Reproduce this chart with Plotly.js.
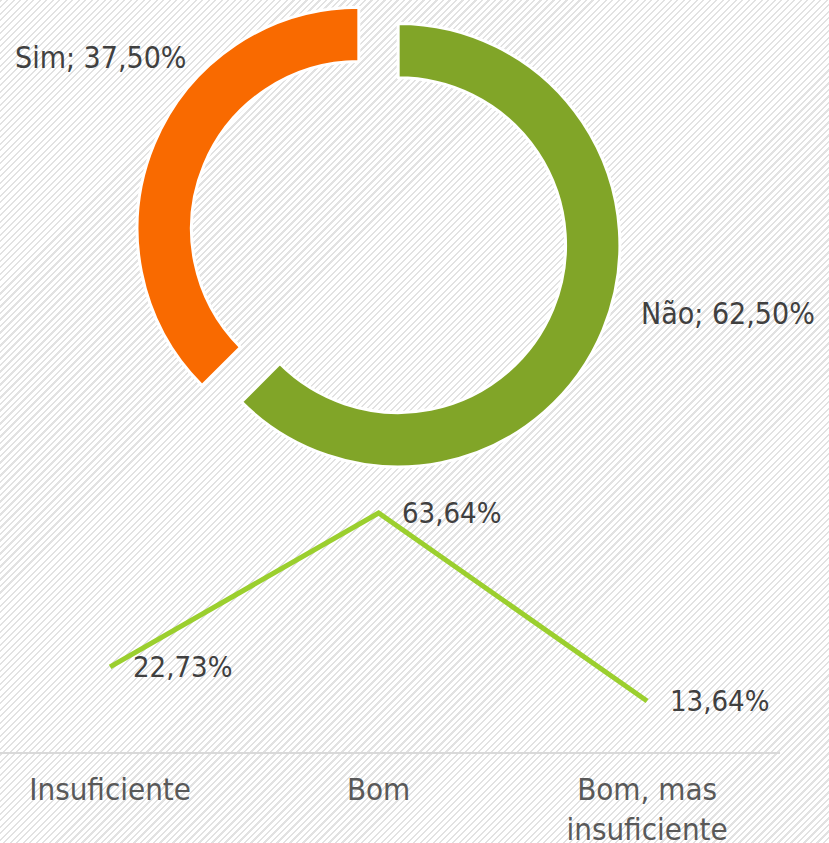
<!DOCTYPE html>
<html>
<head>
<meta charset="utf-8">
<script src="https://cdn.plot.ly/plotly-3.0.1.min.js"></script>
<style>
  html, body { margin: 0; padding: 0; width: 829px; height: 843px; overflow: hidden; }
  body {
    background-color: #ffffff;
    background-image: repeating-linear-gradient(135deg, #e2e2e2 0px, #e2e2e2 1.6px, #ffffff 1.6px, #ffffff 4.6px);
  }
  #chart { position: absolute; left: 0; top: -6px; width: 829px; height: 849px; }
</style>
</head>
<body>
<div id="chart"></div>
<script>
// Donut data
const pieLabels = ['Sim', 'Não'];
const pieValues = [37.5, 62.5];
const pieColors = ['#F96A00', '#81A528'];

// Line data
const lineCategories = ['Insuficiente', 'Bom', 'Bom, mas insuficiente'];
const lineTickLabels = ['Insuficiente', 'Bom', 'Bom, mas<br>insuficiente'];
const lineValues = [22.73, 63.64, 13.64];

const FONT = '"DejaVu Sans Condensed", "Liberation Sans Narrow", "DejaVu Sans", sans-serif';
const fmt = v => v.toFixed(2).replace('.', ',') + '%';

const W = 829, H = 849, OFF = 6;
const py = y => 1 - (y + OFF) / H; // page pixel y -> paper fraction

const pieTrace = {
  type: 'pie',
  labels: pieLabels,
  values: pieValues,
  hole: 0.755,
  pull: [0.096, 0.096],
  sort: true,
  direction: 'clockwise',
  rotation: 0,
  textinfo: 'none',
  hoverinfo: 'skip',
  marker: { colors: pieColors, line: { color: '#ffffff', width: 3 } },
  domain: { x: [(378.5 - 243) / W, (378.5 + 243) / W], y: [1 - 486 / H, 1] },
  showlegend: false
};

const lineTrace = {
  type: 'scatter',
  mode: 'lines',
  x: lineCategories,
  y: lineValues,
  line: { color: '#9BCF2E', width: 5 },
  hoverinfo: 'skip',
  showlegend: false,
  xaxis: 'x',
  yaxis: 'y'
};

const annotations = [];
const total = pieValues.reduce((a, b) => a + b, 0);
const piePos = {
  'Sim': { x: 13 / W, y: py(58) },
  'Não': { x: 639 / W, y: py(313) }
};
pieLabels.forEach((lab, i) => {
  annotations.push({
    xref: 'paper', yref: 'paper',
    x: piePos[lab].x, y: piePos[lab].y,
    xanchor: 'left', yanchor: 'middle',
    text: lab + '; ' + fmt(pieValues[i] / total * 100),
    showarrow: false,
    font: { family: FONT, size: 30, color: '#404040' }
  });
});
lineCategories.forEach((c, i) => {
  annotations.push({
    xref: 'x', yref: 'y',
    x: c, y: lineValues[i],
    xanchor: 'left', yanchor: 'middle',
    xshift: 21, yshift: 0,
    text: fmt(lineValues[i]),
    showarrow: false,
    font: { family: FONT, size: 29, color: '#404040' }
  });
});

const layout = {
  width: W, height: H,
  margin: { l: 0, r: 0, t: 0, b: 0, pad: 0 },
  paper_bgcolor: 'rgba(0,0,0,0)',
  plot_bgcolor: 'rgba(0,0,0,0)',
  showlegend: false,
  font: { family: FONT, color: '#595959' },
  xaxis: {
    type: 'category',
    domain: [0, 780 / W],
    range: [-0.41, 2.495],
    tickmode: 'array',
    tickvals: lineCategories,
    ticktext: lineTickLabels,
    showgrid: false,
    zeroline: false,
    showline: true,
    linecolor: '#D9D9D9',
    linewidth: 2,
    ticks: '',
    ticklabelstandoff: 8,
    tickfont: { family: FONT, size: 31, color: '#595959' },
    fixedrange: true
  },
  yaxis: {
    domain: [py(752.3), py(451.5)],
    range: [0, 80],
    visible: false,
    showgrid: false,
    zeroline: false,
    fixedrange: true
  },
  annotations: annotations
};

Plotly.newPlot('chart', [pieTrace, lineTrace], layout, { staticPlot: true, displayModeBar: false });
</script>
</body>
</html>
